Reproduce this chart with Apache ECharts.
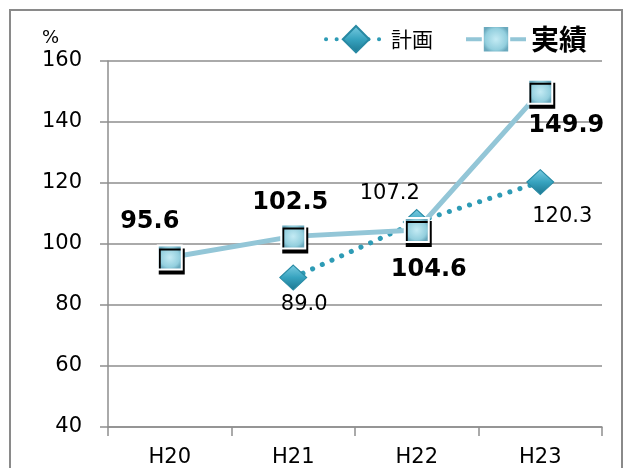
<!DOCTYPE html>
<html>
<head>
<meta charset="utf-8">
<script src="https://cdn.jsdelivr.net/npm/echarts@6/dist/echarts.min.js"></script>
<style>
  html, body { margin: 0; padding: 0; background: #fff; }
  #chart { width: 628px; height: 468px; }
</style>
</head>
<body>
<div id="chart"></div>
<script>
// Fiscal years (Heisei era)
const categories = ['H20', 'H21', 'H22', 'H23'];
// Plan (%), no plan value for H20
const planValues = [null, 89.0, 107.2, 120.3];
// Actual results (%)
const actualValues = [95.6, 102.5, 104.6, 149.9];
// Value axis ticks
const yTicks = [40, 60, 80, 100, 120, 140, 160];

const latin = "'DejaVu Sans', Verdana, sans-serif";
const cjk = "'Noto Sans CJK JP', sans-serif";
const gray = '#8e8e8e';

// Per-point label placement [dx, dy] relative to the mark
const planLabelOffsets = [null, [11, 27], [-27, -28], [22, 34]];
const actualLabelOffsets = [[-20, -36], [-3, -34], [12, 40], [26, 34]];

const diamondFill = new echarts.graphic.LinearGradient(0, 0, 0, 1, [
  { offset: 0, color: '#7ccde2' },
  { offset: 0.5, color: '#37a3bf' },
  { offset: 1, color: '#1b7690' }
]);
const squareFill = new echarts.graphic.RadialGradient(0.5, 0.5, 0.5, [
  { offset: 0, color: '#c4ebf4' },
  { offset: 0.75, color: '#93cfde' },
  { offset: 1, color: '#6aa9bd' }
]);

const planData = planValues.map((v, i) => v == null ? '-' : {
  value: v,
  label: {
    show: true,
    offset: planLabelOffsets[i],
    position: 'inside',
    formatter: (p) => Number(p.value).toFixed(1)
  }
});
const actualData = actualValues.map((v, i) => ({
  value: v,
  label: {
    show: true,
    offset: actualLabelOffsets[i],
    position: 'inside',
    formatter: (p) => Number(p.value).toFixed(1)
  }
}));

const chart = echarts.init(document.getElementById('chart'), null, { renderer: 'canvas' });
chart.setOption({
  animation: false,
  backgroundColor: '#fff',
  grid: { left: 108, right: 26, top: 61, bottom: 39 },
  legend: {
    top: 20,
    right: 36,
    itemGap: 31,
    itemWidth: 60,
    itemHeight: 33,
    lineStyle: { width: 4 },
    data: [
      { name: '計画', textStyle: { fontFamily: cjk, fontSize: 21, color: '#000' } },
      { name: '実績', textStyle: { fontFamily: cjk, fontSize: 28, fontWeight: 'bold', color: '#000' } }
    ]
  },
  xAxis: {
    type: 'category',
    data: categories,
    boundaryGap: true,
    axisLine: { lineStyle: { color: gray, width: 1.5 } },
    axisTick: { show: true, length: 9, interval: 0, lineStyle: { color: gray, width: 1.5 } },
    axisLabel: { fontFamily: latin, fontSize: 21, color: '#000', margin: 20 }
  },
  yAxis: {
    type: 'value',
    min: yTicks[0],
    max: yTicks[yTicks.length - 1],
    interval: 20,
    axisLine: { show: true, lineStyle: { color: gray, width: 1.5 } },
    axisTick: { show: true, length: 8, lineStyle: { color: gray, width: 1.5 } },
    axisLabel: { fontFamily: latin, fontSize: 21, color: '#000', margin: 26 },
    splitLine: { show: true, lineStyle: { color: gray, width: 1.5 } }
  },
  graphic: [
    {
      type: 'rect',
      shape: { x: 10, y: 10, width: 612, height: 520 },
      style: { fill: null, stroke: '#8a8a8a', lineWidth: 2 },
      silent: true
    },
    {
      type: 'text',
      left: 42,
      top: 29,
      style: { text: '%', font: "18px 'DejaVu Sans'", fill: '#000' }
    }
  ],
  series: [
    {
      name: '計画',
      type: 'line',
      data: planData,
      symbol: 'diamond',
      symbolSize: [27, 25],
      lineStyle: { color: '#2e9bb5', width: 5, type: [0.1, 10.5], cap: 'round' },
      itemStyle: { color: diamondFill, borderColor: '#2789a3', borderWidth: 1 },
      label: { fontFamily: latin, fontSize: 21, color: '#000' },
      z: 2
    },
    {
      name: '実績',
      type: 'line',
      data: actualData,
      symbol: 'rect',
      symbolSize: 24,
      lineStyle: { color: '#93c6d7', width: 5 },
      itemStyle: {
        color: squareFill,
        borderColor: '#ffffff',
        borderWidth: 2,
        shadowColor: '#000',
        shadowBlur: 0,
        shadowOffsetX: 2,
        shadowOffsetY: 4
      },
      label: { fontFamily: latin, fontSize: 24, fontWeight: 'bold', color: '#000' },
      z: 3
    }
  ]
});
</script>
</body>
</html>
